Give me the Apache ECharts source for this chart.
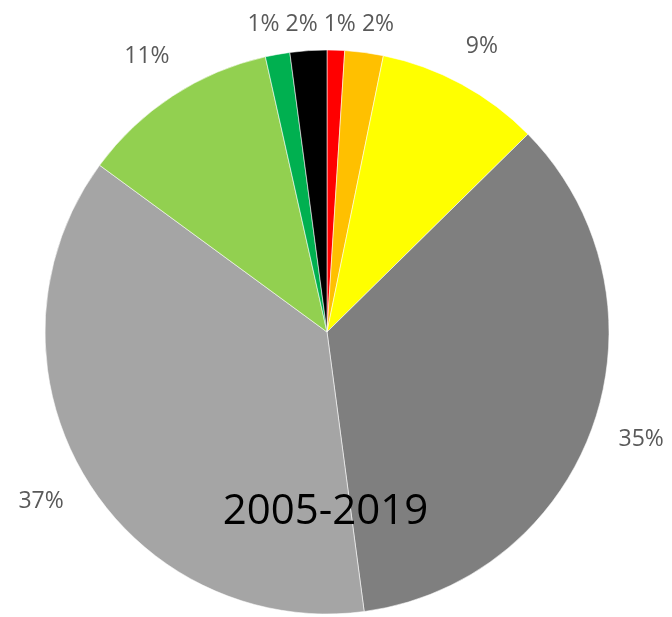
<!DOCTYPE html>
<html>
<head>
<meta charset="utf-8">
<script src="https://cdn.jsdelivr.net/npm/echarts@6/dist/echarts.min.js"></script>
<style>
  html, body { margin: 0; padding: 0; background: #ffffff; }
  #chart { width: 672px; height: 617px; }
</style>
</head>
<body>
<div id="chart"></div>
<script>
// Slices, clockwise from 12 o'clock
const categories = ['Red', 'Orange', 'Yellow', 'Dark grey', 'Light grey', 'Light green', 'Green', 'Black'];
const values = [1.0, 2.2, 9.4, 35.2, 37.1, 11.4, 1.4, 2.1];
const colors = ['#ff0000', '#ffc000', '#ffff00', '#7f7f7f', '#a5a5a5', '#92d050', '#00b050', '#000000'];
const periodLabel = '2005-2019';

const CX = 327, CY = 332, R = 282;
const GAP = 25, TOP_LIMIT = 13, SPACING = 6;
const LABEL_FONT_SIZE = 23, LABEL_FONT = 'Open Sans';

const labelText = v => Math.round(v) + '%';

// Pre-compute label positions (Excel-like "outside end" placement)
const total = values.reduce((a, b) => a + b, 0);
const measureCtx = document.createElement('canvas').getContext('2d');
measureCtx.font = LABEL_FONT_SIZE + 'px "' + LABEL_FONT + '"';
const labelPos = [];
let acc = 0;
values.forEach((v, i) => {
  const a = (acc + v / 2) / total * 2 * Math.PI;
  acc += v;
  const dx = Math.sin(a), dy = -Math.cos(a);
  const hw = measureCtx.measureText(labelText(v)).width / 2;
  const hh = LABEL_FONT_SIZE / 2;
  const d = R + GAP + hw * Math.abs(dx) + hh * Math.abs(dy);
  let x = CX + dx * d, y = CY + dy * d, clamped = false;
  if (y - hh < TOP_LIMIT) { y = TOP_LIMIT + hh; clamped = true; }
  labelPos.push({ x, y, hw, clamped });
});
// spread clamped labels along the top row so they do not collide
const row = labelPos.filter(p => p.clamped).sort((p, q) => p.x - q.x);
for (let it = 0; it < 50; it++) {
  for (let k = 0; k < row.length - 1; k++) {
    const p = row[k], q = row[k + 1];
    const overlap = (p.hw + q.hw + SPACING) - (q.x - p.x);
    if (overlap > 0) { p.x -= overlap / 2; q.x += overlap / 2; }
  }
}

const chart = echarts.init(document.getElementById('chart'), null, { renderer: 'canvas' });
chart.setOption({
  animation: false,
  backgroundColor: '#ffffff',
  series: [{
    type: 'pie',
    center: [CX, CY],
    radius: [0, R],
    startAngle: 90,
    clockwise: true,
    avoidLabelOverlap: false,
    data: categories.map((c, i) => ({
      name: c,
      value: values[i],
      itemStyle: { color: colors[i] }
    })),
    itemStyle: { borderColor: 'rgba(255,255,255,0.55)', borderWidth: 1 },
    emphasis: { disabled: true },
    label: {
      show: true,
      position: 'outside',
      formatter: p => labelText(p.value),
      fontFamily: LABEL_FONT,
      fontSize: LABEL_FONT_SIZE,
      color: '#595959'
    },
    labelLine: { show: false, length: 20, length2: 0 },
    labelLayout: function (params) {
      const p = labelPos[params.dataIndex];
      return { x: p.x, y: p.y, align: 'center', verticalAlign: 'middle' };
    }
  }],
  graphic: [{
    type: 'text',
    x: 325.5,
    y: 512.5,
    z: 100,
    style: {
      text: periodLabel,
      fontFamily: 'Open Sans',
      fontSize: 42,
      fill: '#000000',
      align: 'center',
      verticalAlign: 'middle'
    }
  }]
});
</script>
</body>
</html>
